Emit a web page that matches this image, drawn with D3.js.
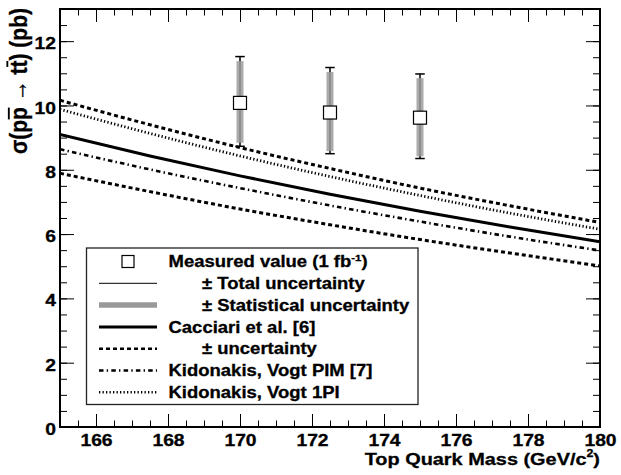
<!DOCTYPE html>
<html>
<head>
<meta charset="utf-8">
<script src="https://cdn.jsdelivr.net/npm/d3@7"></script>
<style>
  html, body { margin: 0; padding: 0; background: #fff; }
  svg { display: block; }
  text { font-family: "Liberation Sans", Arial, Helvetica, sans-serif; font-weight: bold; fill: #000;
         stroke: #000; stroke-width: 0.3px; }
</style>
</head>
<body>
<svg id="chart" width="621" height="475"></svg>
<script>
// Theory predictions of the ttbar cross section (pb) versus top quark mass (GeV/c^2)
const massGrid     = [165, 167.5, 170, 172.5, 175, 177.5, 180];
const cacciari     = [9.10, 8.43, 7.81, 7.24, 6.71, 6.22, 5.76];
const cacciariUp   = [10.16, 9.40, 8.69, 8.04, 7.43, 6.88, 6.36];
const cacciariDown = [7.89, 7.32, 6.78, 6.29, 5.83, 5.41, 5.01];
const kidonakisPIM = [8.64, 8.01, 7.43, 6.89, 6.39, 5.92, 5.49];
const kidonakis1PI = [9.88, 9.13, 8.43, 7.79, 7.20, 6.65, 6.15];

// Measured cross section for three assumed top masses
const measMass  = [170, 172.5, 175];
const measValue = [10.08, 9.78, 9.62];
const totalLow  = [8.73, 8.50, 8.35];
const totalHigh = [11.52, 11.18, 10.98];
const statLow   = [8.84, 8.58, 8.42];
const statHigh  = [11.38, 11.04, 10.85];

// Axis ticks
const xTicks = [166, 168, 170, 172, 174, 176, 178, 180];
const yTicks = [0, 2, 4, 6, 8, 10, 12];

// Legend entries, top to bottom
const legendLabels = [
  "Measured value (1 fb^{-1})",
  "\u00B1 Total uncertainty",
  "\u00B1 Statistical uncertainty",
  "Cacciari et al. [6]",
  "\u00B1 uncertainty",
  "Kidonakis, Vogt PIM [7]",
  "Kidonakis, Vogt 1PI"
];

const svg = d3.select("#chart");
const SX = 1.17; // horizontal stretch of the bold Helvetica-style lettering

const x = d3.scaleLinear().domain([165, 180]).range([60, 600]);
const y = d3.scaleLinear().domain([0, 13]).range([427, 9]);

// Write a line of text that may contain ^{...} superscripts
function richText(textSel, str, size) {
  const parts = str.split(/\^\{([^}]*)\}/);
  const supSize = size * 0.62;
  const raise = size * 0.42;
  parts.forEach((p, i) => {
    if (p === "") return;
    const t = textSel.append("tspan").text(p);
    if (i % 2 === 1) {
      t.attr("font-size", supSize).attr("dy", -raise);
    } else if (i > 0) {
      t.attr("dy", raise);
    }
  });
  return textSel;
}

function stretchedText(parent, px, py, size, anchor, str) {
  const g = parent.append("g").attr("transform", `translate(${px},${py}) scale(${SX},1)`);
  const t = g.append("text").attr("font-size", size).attr("text-anchor", anchor);
  richText(t, str, size);
  return t;
}

// ---- ticks (ROOT style: inward on all four sides) ----
const tickColor = "#000";
function styleAxis(g) {
  g.select(".domain").remove();
  g.selectAll(".tick line").attr("stroke", tickColor).attr("stroke-width", 1);
}
const minorX = d3.range(165, 180.001, 0.5);
const minorY = d3.range(0, 13.001, 0.5);

// bottom
svg.append("g").attr("transform", `translate(0,${y(0)})`)
  .call(d3.axisBottom(x).tickValues(minorX).tickSize(-6.5).tickFormat(""))
  .call(styleAxis);
const gxb = svg.append("g").attr("transform", `translate(0,${y(0)})`)
  .call(d3.axisBottom(x).tickValues(xTicks).tickSize(-13).tickPadding(7).tickFormat(d3.format("d")))
  .call(styleAxis);
gxb.selectAll("text")
  .attr("font-size", 16.5).attr("font-family", null).attr("fill", "#000")
  .attr("transform", `scale(${SX},1)`);

// top
svg.append("g").attr("transform", `translate(0,${y(13)})`)
  .call(d3.axisTop(x).tickValues(minorX).tickSize(-6.5).tickFormat(""))
  .call(styleAxis);
svg.append("g").attr("transform", `translate(0,${y(13)})`)
  .call(d3.axisTop(x).tickValues(xTicks).tickSize(-13).tickFormat(""))
  .call(styleAxis);

// left
svg.append("g").attr("transform", `translate(${x(165)},0)`)
  .call(d3.axisLeft(y).tickValues(minorY).tickSize(-7).tickFormat(""))
  .call(styleAxis);
const gyl = svg.append("g").attr("transform", `translate(${x(165)},0)`)
  .call(d3.axisLeft(y).tickValues(yTicks).tickSize(-14).tickPadding(4).tickFormat(d3.format("d")))
  .call(styleAxis);
gyl.selectAll("text")
  .attr("font-size", 16.5).attr("font-family", null).attr("fill", "#000")
  .attr("x", -4 / SX).attr("dy", "0.46em")
  .attr("transform", `scale(${SX},1)`);

// right
svg.append("g").attr("transform", `translate(${x(180)},0)`)
  .call(d3.axisRight(y).tickValues(minorY).tickSize(-7).tickFormat(""))
  .call(styleAxis);
svg.append("g").attr("transform", `translate(${x(180)},0)`)
  .call(d3.axisRight(y).tickValues(yTicks).tickSize(-14).tickFormat(""))
  .call(styleAxis);

// ---- theory curves ----
const styles = {
  central: { width: 3, dash: null },
  band:    { width: 3, dash: "4,3" },
  pim:     { width: 2.6, dash: "4.5,3.2,1.4,3.2" },
  onePI:   { width: 2.8, dash: "1.3,2.2" }
};

svg.append("clipPath").attr("id", "frame-clip")
  .append("rect").attr("x", x(165)).attr("y", y(13))
  .attr("width", x(180) - x(165)).attr("height", y(0) - y(13));

const line = d3.line()
  .x(d => x(d[0]))
  .y(d => y(d[1]))
  .curve(d3.curveMonotoneX);

const curves = [
  { values: cacciariUp,   style: styles.band },
  { values: cacciariDown, style: styles.band },
  { values: kidonakis1PI, style: styles.onePI },
  { values: kidonakisPIM, style: styles.pim },
  { values: cacciari,     style: styles.central }
];
const curveLayer = svg.append("g").attr("clip-path", "url(#frame-clip)");
curves.forEach(c => {
  curveLayer.append("path")
    .datum(massGrid.map((m, i) => [m, c.values[i]]))
    .attr("d", line)
    .attr("fill", "none")
    .attr("stroke", "#000")
    .attr("stroke-width", c.style.width)
    .attr("stroke-dasharray", c.style.dash);
});

// ---- measurements ----
const meas = measMass.map((m, i) => ({
  m, v: measValue[i], tl: totalLow[i], th: totalHigh[i], sl: statLow[i], sh: statHigh[i]
}));
const capW = 9.5, bandW = 7, boxS = 13;
const mg = svg.append("g");
meas.forEach(d => {
  const cx = x(d.m);
  mg.append("line").attr("x1", cx).attr("x2", cx).attr("y1", y(d.th)).attr("y2", y(d.tl))
    .attr("stroke", "#000").attr("stroke-width", 1.5);
  [d.th, d.tl].forEach(v => {
    mg.append("line").attr("x1", cx - capW / 2).attr("x2", cx + capW / 2)
      .attr("y1", y(v)).attr("y2", y(v)).attr("stroke", "#000").attr("stroke-width", 1.5);
  });
  mg.append("rect").attr("x", cx - bandW / 2).attr("width", bandW)
    .attr("y", y(d.sh)).attr("height", y(d.sl) - y(d.sh))
    .attr("fill", "#9c9c9c").attr("fill-opacity", 0.85);
  mg.append("rect").attr("x", cx - boxS / 2).attr("y", y(d.v) - boxS / 2)
    .attr("width", boxS).attr("height", boxS)
    .attr("fill", "#fff").attr("stroke", "#000").attr("stroke-width", 1.2);
});

// ---- legend ----
const leg = { x0: 86.5, y0: 248, x1: 418, y1: 404.5 };
svg.append("rect").attr("x", leg.x0).attr("y", leg.y0)
  .attr("width", leg.x1 - leg.x0).attr("height", leg.y1 - leg.y0)
  .attr("fill", "#fff").attr("stroke", "#222").attr("stroke-width", 1.3);

const rowY = d3.scalePoint().domain(d3.range(legendLabels.length)).range([261.5, 392.3]);
const sx0 = 99, sx1 = 157;
const lg = svg.append("g");
legendLabels.forEach((label, i) => {
  const ry = rowY(i);
  if (i === 0) {
    lg.append("rect").attr("x", (sx0 + sx1) / 2 - 6).attr("y", ry - 6)
      .attr("width", 12).attr("height", 12)
      .attr("fill", "#fff").attr("stroke", "#000").attr("stroke-width", 1.2);
  } else {
    const st = [null,
      { width: 1, dash: null, color: "#000" },
      { width: 5.5, dash: null, color: "#999" },
      { width: 3, dash: null, color: "#000" },
      { width: 2.6, dash: styles.band.dash, color: "#000" },
      { width: 2.4, dash: styles.pim.dash, color: "#000" },
      { width: 2.4, dash: styles.onePI.dash, color: "#000" }][i];
    lg.append("line").attr("x1", sx0).attr("x2", sx1).attr("y1", ry).attr("y2", ry)
      .attr("stroke", st.color).attr("stroke-width", st.width)
      .attr("stroke-dasharray", st.dash);
  }
  const tx = label.startsWith("\u00B1") ? 202 : 168.5;
  stretchedText(lg, tx, ry + 5.7, 15.8, "start", label);
});

// ---- axis titles ----
stretchedText(svg, 600, 464.5, 17, "end", "Top Quark Mass (GeV/c^{2})");

const ytSize = 21;
const ytg = svg.append("g").attr("transform", `translate(27,8) rotate(-90) scale(1,${SX})`);
const yt = ytg.append("text").attr("font-size", ytSize).attr("text-anchor", "end")
  .text("\u03C3(pp \u2192 tt) (pb)");
// bars over the antiparticle symbols
[3, 8].forEach(idx => {
  const n = yt.node();
  const s = n.getStartPositionOfChar(idx);
  const e = n.getEndPositionOfChar(idx);
  const barY = idx === 3 ? -0.74 * ytSize : -0.80 * ytSize;
  ytg.append("line").attr("x1", s.x + 0.5).attr("x2", e.x - 0.5)
    .attr("y1", barY).attr("y2", barY)
    .attr("stroke", "#000").attr("stroke-width", 1.6);
});

// ---- frame ----
svg.append("rect").attr("x", x(165)).attr("y", y(13))
  .attr("width", x(180) - x(165)).attr("height", y(0) - y(13))
  .attr("fill", "none").attr("stroke", "#000").attr("stroke-width", 2);
</script>
</body>
</html>
